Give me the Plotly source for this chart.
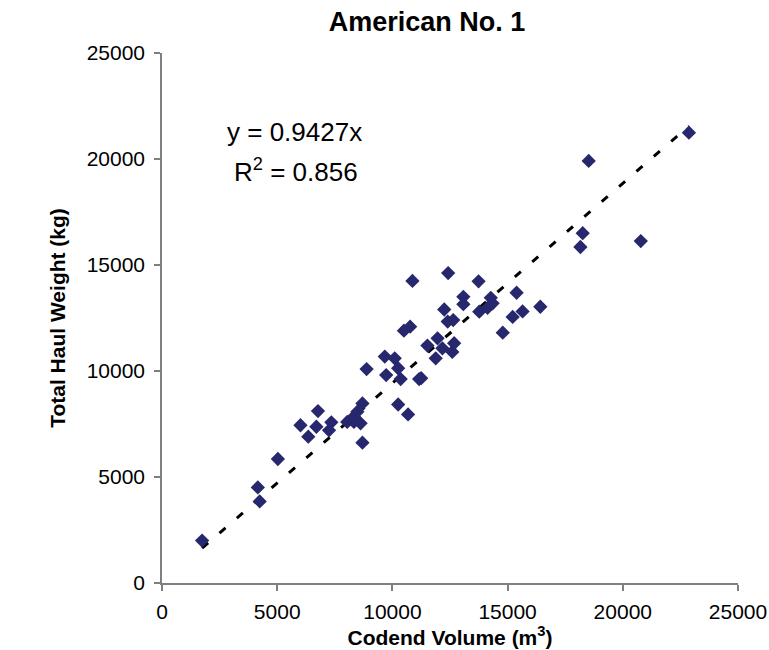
import plotly.graph_objects as go

# Codend volume (m^3) and total haul weight (kg)
codend_volume = [1740, 4160, 4240, 5030, 6010, 6350, 6700, 6770, 7350, 7250,
                 8040, 8330, 8620, 8330, 8480, 8700, 8700, 8880, 9670, 10100,
                 9730, 10250, 10360, 10250, 10680, 11160, 11250, 10500, 10770, 10870,
                 11520, 11960, 12170, 11880, 12600, 12680, 12400, 12640, 12250, 12420,
                 13740, 13080, 13080, 13770, 14270, 14350, 14130, 15390, 15650, 15220,
                 16420, 14790, 18520, 18260, 18160, 20780, 22870]
haul_weight = [2000, 4510, 3850, 5850, 7440, 6900, 7370, 8110, 7580, 7200,
               7600, 7600, 7530, 7850, 8080, 8470, 6620, 10090, 10680, 10600,
               9810, 10130, 9620, 8420, 7950, 9620, 9660, 11900, 12090, 14250,
               11200, 11540, 11070, 10600, 10900, 11310, 12330, 12400, 12900, 14620,
               14230, 13500, 13150, 12800, 13450, 13190, 12980, 13690, 12810, 12550,
               13030, 11810, 19910, 16500, 15850, 16130, 21240]

slope = 0.9427
r_squared = 0.856
x_ticks = [0, 5000, 10000, 15000, 20000, 25000]
y_ticks = [0, 5000, 10000, 15000, 20000, 25000]

FONT = "Liberation Sans, Arial, sans-serif"

trend_x = [min(codend_volume), max(codend_volume)]
trend_y = [slope * v for v in trend_x]

fig = go.Figure()
fig.add_trace(go.Scatter(
    x=trend_x, y=trend_y, mode="lines",
    line=dict(color="black", width=3, dash="8px,15px"),
    hoverinfo="skip", showlegend=False,
))
fig.add_trace(go.Scatter(
    x=codend_volume, y=haul_weight, mode="markers",
    marker=dict(symbol="diamond", size=11, color="#27276E", line=dict(width=0)),
    showlegend=False,
))

fig.update_layout(
    width=769, height=650,
    margin=dict(l=162, r=31, t=53, b=67, autoexpand=False),
    paper_bgcolor="white", plot_bgcolor="white",
    font=dict(family=FONT, color="black", size=21),
    title=dict(text="<b>American No. 1</b>", x=427/769, xanchor="center",
               y=1 - 22/650, yanchor="middle",
               font=dict(family=FONT, size=27, color="black")),
    xaxis=dict(
        range=[0, 25000], tickvals=x_ticks, ticktext=[str(v) for v in x_ticks],
        automargin=False, ticklabelstandoff=3,
        showgrid=False, zeroline=False, showline=True, linecolor="#808080", linewidth=1.5,
        ticks="outside", ticklen=6, tickcolor="#808080", tickwidth=1.5,
        tickfont=dict(size=21, family=FONT),
        title=dict(text="<b>Codend Volume (m<sup>3</sup>)</b>", standoff=1,
                   font=dict(size=21, family=FONT)),
    ),
    yaxis=dict(
        range=[0, 25000], tickvals=y_ticks, ticktext=[str(v) for v in y_ticks],
        automargin=False, ticklabelstandoff=5,
        showgrid=False, zeroline=False, showline=True, linecolor="#808080", linewidth=1.5,
        ticks="outside", ticklen=6, tickcolor="#808080", tickwidth=1.5,
        tickfont=dict(size=21, family=FONT),
        title=dict(text="<b>Total Haul Weight (kg)</b>", standoff=15,
                   font=dict(size=21, family=FONT)),
    ),
    annotations=[
        dict(text=f"y = {slope}x", x=294, y=132, xref="paper", yref="paper",
             showarrow=False, font=dict(size=26, family=FONT)),
        dict(text=f"R<sup>2</sup> = {r_squared}", x=296, y=170, xref="paper", yref="paper",
             showarrow=False, font=dict(size=26, family=FONT)),
    ],
)

# convert annotation pixel centres to paper coords
pl, pt, pw, ph = 162, 53, 769 - 162 - 31, 650 - 53 - 67
for a in fig.layout.annotations:
    px, py = a.x, a.y
    a.x = (px - pl) / pw
    a.y = 1 - (py - pt) / ph
    a.xanchor = "center"
    a.yanchor = "middle"

fig.write_html("out.html")
